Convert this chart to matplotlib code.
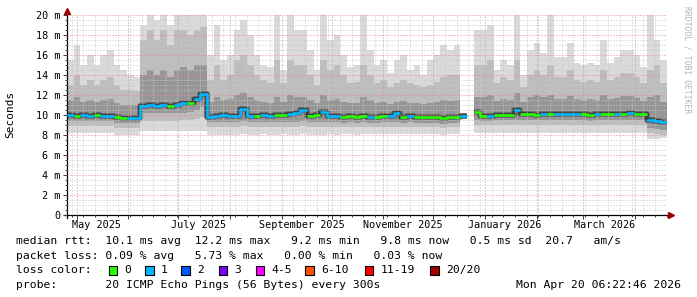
import numpy as np
import pandas as pd
import matplotlib
matplotlib.use('Agg')
import matplotlib.pyplot as plt
import matplotlib.dates as mdates
import matplotlib.transforms as mtransforms
from matplotlib.patches import Rectangle
from datetime import datetime, timedelta

nan = np.nan

# time range of the graph (last 360 days), one sample every 4 days
start = datetime(2025, 4, 25, 6, 22, 46)
end = datetime(2026, 4, 20, 6, 22, 46)
dates = pd.date_range(start, periods=91, freq='4D')

# median rtt in ms
median = [10.0, 9.9, 10.0, 9.9, 10.0, 9.9, 9.9, 9.8, 9.7, 9.7, 9.7,
          10.9, 11.0, 10.9, 11.0, 10.9, 11.0, 11.2, 11.2, 11.6, 12.1,
          9.8, 9.9, 10.0, 9.9, 9.9, 10.6, 9.9, 9.9, 10.0, 9.9,
          10.0, 10.0, 10.1, 10.2, 10.5, 9.9, 10.0, 10.3, 9.9, 9.9,
          9.8, 9.9, 9.8, 9.9, 9.8, 9.8, 9.9, 9.9, 10.2, 9.8,
          9.9, 9.8, 9.8, 9.8, 9.8, 9.7, 9.8, 9.8, 9.9, nan,
          10.3, 9.9, 9.9, 10.0, 10.0, 10.0, 10.5, 10.1, 10.1, 10.0,
          10.1, 10.1, 10.1, 10.1, 10.1, 10.1, 10.1, 10.0, 10.1, 10.1,
          10.1, 10.1, 10.1, 10.2, 10.1, 10.1, 9.5, 9.4, 9.3, 9.4]

# lost pings per sample (0 or 1 of 20)
loss = [1, 0, 1, 1, 0, 1, 1, 0, 0, 1, 1,
        1, 1, 1, 1, 0, 1, 1, 0, 1, 1,
        1, 1, 1, 1, 1, 1, 1, 0, 1, 1,
        0, 0, 1, 1, 1, 0, 0, 1, 1, 1,
        0, 0, 0, 0, 1, 0, 0, 1, 1, 0,
        1, 0, 0, 0, 0, 0, 0, 0, 1, 0,
        0, 0, 1, 0, 0, 0, 1, 0, 0, 0,
        1, 0, 1, 1, 1, 1, 0, 0, 1, 0,
        0, 1, 0, 1, 0, 0, 1, 1, 1, 1]

# smoke: slowest ping
smoke_max = [15.5, 17.0, 15.0, 16.0, 15.0, 16.0, 16.5, 15.0, 14.5, 14.0, 13.8,
             19.0, 20.5, 19.5, 20.5, 19.0, 20.5, 20.5, 20.5, 20.5, 20.5,
             16.0, 19.0, 15.5, 16.0, 18.5, 19.5, 18.0, 16.0, 15.0, 14.8,
             20.5, 14.5, 20.0, 18.5, 18.5, 16.5, 14.5, 20.5, 17.5, 18.0,
             16.0, 14.8, 15.0, 20.0, 16.5, 15.0, 15.5, 14.2, 15.5, 16.0,
             14.5, 15.0, 14.0, 15.5, 16.0, 17.0, 16.5, 17.0, 17.2, nan,
             18.5, 18.5, 19.0, 14.5, 15.5, 15.0, 20.5, 14.0, 16.5, 17.2,
             16.2, 20.0, 15.8, 15.8, 17.2, 15.2, 15.0, 15.2, 15.0, 17.5,
             15.2, 15.8, 16.5, 16.5, 16.0, 14.8, 20.5, 17.5, 15.5, 14.5]

# smoke: upper outer band
smoke_hi2 = [13.0, 14.0, 13.0, 13.5, 13.0, 13.5, 13.8, 13.0, 12.5, 12.5, 12.4,
             17.5, 18.5, 17.5, 18.5, 17.0, 18.5, 18.5, 18.0, 18.5, 18.8,
             13.5, 15.0, 13.5, 14.0, 15.5, 16.0, 15.0, 14.0, 13.5, 13.2,
             15.5, 13.2, 15.5, 15.0, 15.0, 14.0, 13.0, 15.5, 14.5, 15.0,
             14.0, 13.2, 13.3, 15.0, 14.0, 13.2, 13.5, 12.8, 13.2, 13.5,
             13.2, 13.0, 12.8, 13.0, 13.3, 13.8, 14.0, 14.0, 14.2, nan,
             15.0, 15.0, 15.5, 13.2, 13.8, 13.5, 15.5, 12.8, 14.0, 14.5,
             14.0, 15.0, 13.8, 13.8, 14.5, 13.5, 13.3, 13.5, 13.3, 14.5,
             13.5, 13.8, 14.2, 14.2, 13.8, 13.2, 14.5, 15.0, 13.2, 12.8]

# smoke: upper inner band
smoke_hi1 = [11.5, 11.8, 11.3, 11.5, 11.3, 11.5, 11.6, 11.2, 11.0, 11.0, 11.0,
             14.0, 14.5, 14.0, 14.5, 13.8, 14.5, 14.8, 14.5, 15.0, 15.0,
             11.3, 11.8, 11.5, 11.6, 12.0, 12.2, 11.8, 11.5, 11.3, 11.2,
             11.8, 11.3, 12.0, 11.8, 11.8, 11.5, 11.2, 12.0, 11.5, 11.6,
             11.3, 11.2, 11.2, 11.8, 11.5, 11.2, 11.3, 11.1, 11.3, 11.4,
             11.2, 11.2, 11.1, 11.2, 11.3, 11.5, 11.4, 11.5, 11.6, nan,
             11.8, 11.8, 12.0, 11.4, 11.6, 11.5, 12.2, 11.3, 11.8, 12.0,
             11.8, 12.0, 11.6, 11.6, 11.9, 11.6, 11.5, 11.6, 11.5, 12.0,
             11.6, 11.7, 11.9, 11.9, 11.7, 11.4, 11.8, 12.0, 11.3, 11.0]

# smoke: lower inner band
smoke_lo1 = [9.4, 9.4, 9.4, 9.4, 9.4, 9.4, 9.4, 9.2, 9.2, 9.2, 9.2,
             10.2, 10.2, 10.2, 10.2, 10.2, 10.2, 10.2, 10.3, 10.5, 10.8,
             9.3, 9.3, 9.3, 9.3, 9.3, 9.4, 9.3, 9.3, 9.3, 9.3,
             9.3, 9.3, 9.3, 9.3, 9.4, 9.3, 9.3, 9.3, 9.3, 9.3,
             9.2, 9.3, 9.2, 9.3, 9.2, 9.2, 9.3, 9.3, 9.3, 9.2,
             9.3, 9.2, 9.2, 9.2, 9.2, 9.1, 9.2, 9.2, 9.3, nan,
             9.5, 9.4, 9.4, 9.5, 9.5, 9.5, 9.5, 9.5, 9.5, 9.5,
             9.5, 9.5, 9.5, 9.5, 9.5, 9.5, 9.5, 9.4, 9.5, 9.5,
             9.5, 9.5, 9.5, 9.5, 9.5, 9.5, 8.7, 8.6, 8.5, 8.6]

# smoke: lower outer band
smoke_lo2 = [8.9, 8.9, 8.9, 8.9, 8.9, 8.9, 8.9, 8.7, 8.7, 8.7, 8.7,
             9.4, 9.4, 9.4, 9.4, 9.4, 9.4, 9.5, 9.5, 9.6, 9.8,
             8.8, 8.8, 8.8, 8.8, 8.8, 8.9, 8.8, 8.8, 8.8, 8.8,
             8.8, 8.8, 8.8, 8.8, 8.9, 8.8, 8.8, 8.8, 8.8, 8.8,
             8.8, 8.8, 8.8, 8.8, 8.8, 8.8, 8.8, 8.8, 8.8, 8.8,
             8.8, 8.8, 8.8, 8.8, 8.8, 8.7, 8.8, 8.8, 8.8, nan,
             9.0, 9.0, 9.0, 9.0, 9.0, 9.0, 9.0, 9.0, 9.0, 9.0,
             9.0, 9.0, 9.0, 9.0, 9.0, 9.0, 9.0, 9.0, 9.0, 9.0,
             9.0, 9.0, 9.0, 9.0, 9.0, 9.0, 8.2, 8.1, 8.0, 8.1]

# smoke: fastest ping
smoke_min = [8.2, 8.2, 8.2, 8.2, 8.2, 8.2, 8.2, 8.0, 8.0, 8.0, 8.0,
             8.4, 8.4, 8.4, 8.4, 8.4, 8.4, 8.4, 8.4, 8.4, 8.4,
             8.0, 8.0, 8.0, 8.0, 8.0, 8.1, 8.0, 8.0, 8.1, 8.0,
             8.0, 8.1, 8.0, 8.0, 8.1, 8.0, 8.0, 8.0, 8.1, 8.0,
             8.1, 8.1, 8.0, 8.1, 8.1, 8.1, 8.1, 8.1, 8.1, 8.1,
             8.1, 8.1, 8.1, 8.1, 8.1, 8.0, 8.1, 8.1, 8.1, nan,
             8.2, 8.2, 8.2, 8.2, 8.2, 8.2, 8.2, 8.2, 8.2, 8.2,
             8.2, 8.2, 8.2, 8.2, 8.2, 8.2, 8.2, 8.2, 8.2, 8.2,
             8.2, 8.2, 8.2, 8.2, 8.2, 8.2, 7.6, 7.6, 7.7, 7.7]

ytick_vals = [0, 2, 4, 6, 8, 10, 12, 14, 16, 18, 20]
ytick_labels = ['0', '2 m', '4 m', '6 m', '8 m', '10 m', '12 m', '14 m', '16 m', '18 m', '20 m']
month_labels = ['May 2025', 'July 2025', 'September 2025', 'November 2025', 'January 2026', 'March 2026']
month_label_dates = [datetime(2025, 5, 13), datetime(2025, 7, 13), datetime(2025, 9, 13),
                     datetime(2025, 11, 13), datetime(2026, 1, 13), datetime(2026, 3, 14)]

loss_names = ['0', '1', '2', '3', '4-5', '6-10', '11-19', '20/20']
loss_colors = ['#26ff00', '#00b8ff', '#0059ff', '#7e00ff', '#ff00ff', '#ff5500', '#ff0000', '#a00000']

legend_lines = ['median rtt:  10.1 ms avg  12.2 ms max   9.2 ms min   9.8 ms now   0.5 ms sd  20.7   am/s',
                'packet loss: 0.09 % avg   5.73 % max   0.00 % min   0.03 % now']
probe_text = 'probe:       20 ICMP Echo Pings (56 Bytes) every 300s'
stamp_text = 'Mon Apr 20 06:22:46 2026'

W, H = 697, 297
mono = 'DejaVu Sans Mono'
plt.rcParams['font.family'] = mono

fig = plt.figure(figsize=(W / 100, H / 100), dpi=100)
fig.patch.set_facecolor('white')
ax = fig.add_axes([67 / W, 1 - 215 / H, 600 / W, 200 / H])

med = np.array(median, dtype=float)
los = np.array(loss)

# smoke bands
ax.fill_between(dates, smoke_min, smoke_max, step='post', color='#dadada', lw=0, zorder=1)
ax.fill_between(dates, smoke_lo2, smoke_hi2, step='post', color='#bdbdbd', lw=0, zorder=1.1)
ax.fill_between(dates, smoke_lo1, smoke_hi1, step='post', color='#969696', lw=0, zorder=1.2)
ax.step(dates, med, where='post', color='#6a6a6a', lw=4.2, zorder=1.3, solid_capstyle='butt')
ax.step(dates, med, where='post', color='#3a3a3a', lw=2.6, zorder=1.4, solid_capstyle='butt')

# median coloured by packet loss
for k in range(2):
    ax.step(dates, np.where(los == k, med, np.nan), where='post',
            color=loss_colors[k], lw=1.9, zorder=3, solid_capstyle='butt')

ax.set_xlim(start, end)
ax.set_ylim(0, 20)

ax.set_yticks(ytick_vals)
ax.set_yticklabels(ytick_labels)
ax.set_yticks(np.arange(0, 20.1, 0.5), minor=True)
ax.xaxis.set_major_locator(mdates.MonthLocator())
ax.xaxis.set_minor_locator(mdates.WeekdayLocator(byweekday=mdates.MO))
ax.xaxis.set_major_formatter(plt.NullFormatter())

ax.set_axisbelow(False)
ax.grid(which='minor', color='#c8c8c8', lw=0.72, ls=(0, (1, 2)))
ax.grid(which='major', color='#e58a8a', lw=0.72, ls=(0, (1, 2)))
ax.tick_params(which='both', direction='out', width=0.72, color='#404040')
ax.tick_params(which='major', length=3, labelsize=7.3, pad=2)
ax.tick_params(which='minor', length=1.6)

for s in ['top', 'right']:
    ax.spines[s].set_visible(False)
ax.spines['left'].set_bounds(-0.3, 20.4)
ax.spines['bottom'].set_bounds(mdates.date2num(start - timedelta(days=2)),
                               mdates.date2num(end + timedelta(days=3)))
for s in ['left', 'bottom']:
    ax.spines[s].set_linewidth(0.9)
    ax.spines[s].set_color('black')

# arrow heads
ax.plot([0], [1.022], marker='^', ms=4.5, color='#a00000', transform=ax.transAxes, clip_on=False, zorder=5)
ax.plot([1.006], [0], marker='>', ms=4.5, color='#a00000', transform=ax.transAxes, clip_on=False, zorder=5)

# month labels
tr = mtransforms.blended_transform_factory(ax.transData, ax.transAxes)
for d, lab in zip(month_label_dates, month_labels):
    ax.text(d, -0.052, lab, transform=tr, ha='center', va='center', fontsize=7.3)

fig.text(10 / W, 1 - 114 / H, 'Seconds', rotation=90, ha='center', va='center', fontsize=8)
fig.text(687 / W, 1 - 60 / H, 'RRDTOOL / TOBI OETIKER', rotation=270, ha='center', va='center',
         fontsize=5.8, color='#b4b4b4')

# legend
fig.text(16.5 / W, 1 - 241 / H, legend_lines[0], ha='left', va='center', fontsize=8.2)
fig.text(16.5 / W, 1 - 256 / H, legend_lines[1], ha='left', va='center', fontsize=8.2)
fig.text(16.5 / W, 1 - 270 / H, 'loss color:', ha='left', va='center', fontsize=8.2)
label_x = [124.6, 161, 197, 234.5, 271.5, 321, 380.5, 446]
for lx, name, col in zip(label_x, loss_names, loss_colors):
    fig.add_artist(Rectangle(((lx - 16) / W, 1 - 274.5 / H), 8.5 / W, 9 / H,
                             transform=fig.transFigure, facecolor=col, edgecolor='black', lw=0.8))
    fig.text(lx / W, 1 - 270 / H, name, ha='left', va='center', fontsize=8.2)
fig.text(16.5 / W, 1 - 284.5 / H, probe_text, ha='left', va='center', fontsize=8.2)
fig.text(681 / W, 1 - 284.5 / H, stamp_text, ha='right', va='center', fontsize=8.2)

fig.savefig('out.png', dpi=100)
